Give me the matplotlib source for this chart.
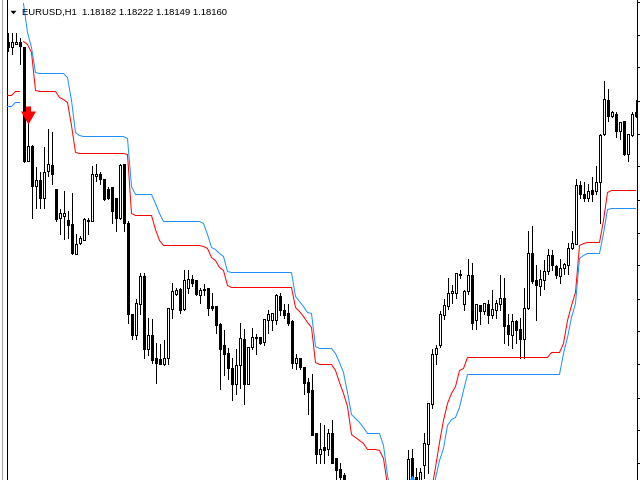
import numpy as np
import matplotlib
matplotlib.use("Agg")
import matplotlib.pyplot as plt
from matplotlib.path import Path
from matplotlib.lines import Line2D

# ---------------- data ----------------
# Values are chart rows (0 = top edge of plot, 480 = bottom edge);
# they are converted to EURUSD prices below with one linear price scale.
symbol = "EURUSD,H1"
header_ohlc = ["1.18182", "1.18222", "1.18149", "1.18160"]

open_rows = [
    42, 46, 43, 42, 47, 160, 146, 186, 179, 197,
    171, 165, 188, 217, 216, 219, 224, 253, 242, 240,
    220, 220, 175, 174, 179, 188, 187, 197, 217, 164,
    222, 313, 335, 303, 276, 348, 335, 358, 358, 363,
    357, 308, 293, 289, 308, 287, 279, 280, 294, 289,
    287, 306, 306, 324, 345, 353, 367, 383, 365, 338,
    383, 346, 337, 336, 341, 319, 320, 320, 296, 310,
    313, 321, 362, 358, 366, 381, 390, 433, 454, 447,
    449, 433, 458, 469, 475, 490, 515, 498, 518, 530,
    510, 522, 540, 525, 542, 520, 530, 512, 500, 510,
    490, 458, 477, 485, 465, 444, 403, 353, 345, 314,
    306, 292, 292, 274, 303, 291, 275, 320, 305, 311,
    304, 315, 309, 303, 297, 325, 335, 321, 328, 338,
    307, 252, 280, 286, 279, 271, 255, 266, 276, 267,
    264, 247, 243, 185, 193, 197, 190, 190, 182, 133,
    99, 115, 113, 130, 121, 153, 134, 112]

high_rows = [
    32, 33, 33, 38, 46, 118, 144, 167, 172, 147,
    128, 132, 188, 208, 190, 210, 192, 233, 235, 217,
    217, 166, 163, 172, 178, 187, 187, 197, 163, 163,
    220, 313, 298, 272, 272, 317, 318, 342, 343, 340,
    307, 282, 287, 287, 270, 270, 275, 280, 287, 283,
    287, 292, 306, 322, 330, 347, 357, 348, 322, 328,
    346, 327, 333, 336, 318, 310, 312, 293, 292, 303,
    303, 320, 353, 358, 366, 377, 373, 433, 422, 425,
    428, 420, 457, 463, 472, 486, 492, 490, 505, 500,
    498, 505, 515, 512, 510, 500, 505, 495, 488, 485,
    450, 449, 468, 467, 433, 402, 348, 345, 311, 298,
    277, 285, 272, 270, 290, 258, 262, 303, 304, 302,
    300, 290, 300, 275, 277, 313, 313, 320, 317, 287,
    230, 225, 265, 270, 259, 248, 249, 265, 258, 262,
    242, 230, 178, 180, 182, 183, 177, 165, 133, 80,
    88, 110, 111, 121, 121, 133, 111, 99]

low_rows = [
    50, 53, 43, 63, 162, 161, 217, 207, 207, 207,
    175, 183, 220, 233, 238, 237, 253, 253, 243, 240,
    233, 221, 180, 183, 199, 198, 222, 230, 218, 230,
    322, 338, 339, 313, 357, 355, 362, 382, 364, 365,
    364, 317, 295, 312, 310, 292, 286, 295, 302, 294,
    315, 310, 332, 388, 375, 378, 400, 393, 387, 403,
    383, 348, 353, 344, 345, 332, 330, 323, 315, 317,
    324, 367, 368, 368, 393, 414, 435, 463, 462, 462,
    455, 462, 485, 488, 495, 510, 520, 525, 535, 540,
    530, 545, 550, 548, 552, 535, 540, 522, 518, 520,
    498, 500, 500, 495, 478, 472, 407, 363, 346, 318,
    308, 302, 297, 277, 310, 293, 328, 328, 323, 313,
    322, 317, 317, 310, 342, 345, 347, 342, 357, 357,
    308, 282, 320, 295, 288, 273, 270, 277, 282, 273,
    273, 248, 243, 197, 200, 200, 200, 193, 222, 134,
    120, 117, 137, 138, 154, 160, 135, 117]

close_rows = [
    47, 41, 41, 45, 160, 146, 186, 180, 197, 172,
    164, 173, 218, 213, 213, 224, 252, 243, 238, 219,
    219, 173, 173, 178, 198, 197, 211, 217, 165, 222,
    313, 334, 303, 276, 348, 335, 360, 362, 363, 357,
    308, 291, 290, 310, 280, 279, 282, 293, 290, 288,
    307, 307, 325, 348, 353, 367, 383, 365, 338, 383,
    346, 337, 336, 342, 319, 313, 313, 295, 310, 315,
    322, 362, 357, 366, 382, 391, 435, 454, 449, 450,
    433, 462, 470, 476, 490, 505, 498, 518, 528, 510,
    522, 538, 525, 540, 520, 528, 512, 500, 510, 492,
    459, 495, 490, 472, 443, 403, 353, 347, 314, 305,
    293, 291, 273, 273, 291, 275, 322, 304, 311, 303,
    315, 309, 302, 297, 326, 333, 321, 329, 338, 307,
    252, 281, 285, 279, 271, 255, 265, 275, 267, 264,
    247, 243, 185, 193, 197, 191, 193, 182, 134, 99,
    115, 112, 130, 122, 153, 134, 113, 115]

# inner (red) and outer (blue) trailing bands
red_rows = [
    95, 95, 91, 91, 41, 44, 52, 90, 91, 91,
    91, 91, 91, 97, 99, 102, 125, 152, 153, 153,
    153, 153, 153, 153, 153, 153, 153, 153, 153, 153,
    154, 213, 215, 215, 215, 215, 215, 229, 240, 245,
    245, 245, 245, 245, 245, 245, 245, 245, 245, 246,
    248, 257, 260, 267, 270, 285, 287, 287, 287, 287,
    287, 287, 287, 287, 287, 287, 287, 287, 287, 287,
    287, 287, 307, 311, 316, 322, 327, 362, 364, 364,
    364, 364, 370, 382, 393, 406, 434, 437, 440, 443,
    449, 449, 449, 450, 458, 485, 505, 508, 510, 510,
    510, 520, 515, 510, 505, 500, 490, 467, 442, 420,
    403, 393, 386, 370, 368, 357, 357, 357, 357, 357,
    357, 357, 357, 357, 357, 357, 357, 357, 357, 357,
    357, 357, 357, 357, 357, 357, 352, 352, 352, 343,
    320, 305, 292, 245, 243, 242, 242, 242, 242, 220,
    192, 190, 190, 190, 190, 190, 190, 190]

blue_rows = [
    106, 106, 102, 102, 3, 32, 47, 72, 73, 73,
    73, 73, 73, 73, 73, 77, 100, 132, 135, 136,
    136, 136, 136, 136, 136, 136, 136, 136, 136, 136,
    138, 186, 194, 194, 194, 194, 194, 203, 213, 221,
    221, 221, 221, 221, 221, 221, 221, 221, 221, 223,
    234, 247, 249, 253, 256, 271, 272, 272, 272, 272,
    272, 272, 272, 272, 272, 272, 272, 272, 272, 272,
    272, 272, 296, 301, 306, 312, 313, 346, 348, 348,
    348, 348, 353, 362, 372, 392, 414, 418, 422, 427,
    433, 433, 433, 433, 445, 475, 495, 498, 500, 500,
    500, 540, 535, 530, 520, 510, 500, 478, 460, 448,
    425, 419, 417, 407, 390, 374, 374, 374, 374, 374,
    374, 374, 374, 374, 374, 374, 374, 374, 374, 374,
    374, 374, 374, 374, 374, 374, 374, 374, 374, 353,
    337, 317, 303, 258, 255, 253, 253, 253, 253, 233,
    209, 208, 208, 208, 208, 208, 208, 208]

# first bar of each trend run (up, down, up)
trend_starts = [0, 4, 101]

# signal arrows (bar index, arrow centre row)
sell_bars, sell_rows = [5], [114]
buy_bars, buy_rows = [101], [484]

# ---------------- price scale ----------------
LAST_CLOSE = 1.18160
LAST_CLOSE_ROW = 115
PRICE_PER_ROW = 0.0013 / 33.0


def to_price(rows):
    return LAST_CLOSE - (np.asarray(rows, dtype=float) - LAST_CLOSE_ROW) * PRICE_PER_ROW


o = to_price(open_rows)
h = to_price(high_rows)
l = to_price(low_rows)
c = to_price(close_rows)
red = to_price(red_rows)
blue = to_price(blue_rows)
n = len(o)
bars = np.arange(n)

W, H = 640, 480
fig = plt.figure(figsize=(6.4, 4.8), dpi=100)
fig.patch.set_facecolor("white")
ax = fig.add_axes([6.5 / W, 0, 630 / W, 1])
ax.set_facecolor("white")
ax.set_xlim(-0.25, -0.25 + 630 / 4.0)
# half-row offset so every row sits on a pixel centre
ax.set_ylim(to_price(479.5), to_price(-0.5))

px = 0.72  # one pixel in points

# candles
ax.vlines(bars, l, h, colors="black", linewidth=px, antialiased=False, zorder=2)
faces = np.where(c > o, "white", "black")
ax.bar(bars, np.abs(c - o), bottom=np.minimum(o, c), width=0.5,
       color=list(faces), edgecolor="black", linewidth=px,
       antialiased=False, zorder=3)

# bands, one line per trend run
ends = trend_starts[1:] + [n]
for s, e in zip(trend_starts, ends):
    ax.plot(bars[s:e], red[s:e], color="#FF0000", linewidth=px,
            antialiased=True, solid_joinstyle="miter", zorder=4)
    ax.plot(bars[s:e], blue[s:e], color="#1E90FF", linewidth=px,
            antialiased=True, solid_joinstyle="miter", zorder=4)

# arrow markers (shape in pixel units, centred)
down_verts = [(-2.5, 9), (2.5, 9), (2.5, 4), (7.5, 4), (0, -9), (-7.5, 4), (-2.5, 4), (-2.5, 9)]
down_arrow = Path(down_verts, closed=True)
up_arrow = Path([(x, -y) for x, y in down_verts], closed=True)
arrow_size = 18 * px
ax.plot(sell_bars, to_price(sell_rows), linestyle="none", marker=down_arrow,
        markersize=arrow_size, markerfacecolor="#FF0000", markeredgewidth=0,
        zorder=6, clip_on=True)
ax.plot(buy_bars, to_price(buy_rows), linestyle="none", marker=up_arrow,
        markersize=arrow_size, markerfacecolor="#1E90FF", markeredgewidth=0,
        zorder=6, clip_on=True)

# frame and right price ticks
for side in ("top", "bottom"):
    ax.spines[side].set_visible(False)
ax.spines["left"].set_linewidth(px)
ax.spines["right"].set_linewidth(px)
ax.spines["left"].set_color("black")
ax.spines["right"].set_color("black")
tick_rows = np.arange(1, 480, 33)
ax.set_yticks(to_price(tick_rows))
ax.yaxis.tick_right()
ax.tick_params(axis="y", direction="out", length=3, width=px, labelright=False,
               labelleft=False, colors="black")
ax.set_xticks([])

# outer window edge
fig.add_artist(Line2D([1.5 / W, 1.5 / W], [0, 1], color="#A0A0A0", linewidth=px,
                      transform=fig.transFigure))

# header
tri = Path([(-3, 1.7), (3, 1.7), (0, -1.7), (-3, 1.7)], closed=True)
fig.add_artist(Line2D([13 / W], [1 - 11.5 / H], marker=tri, markersize=6 * px,
                      markerfacecolor="black", markeredgewidth=0, linestyle="none",
                      transform=fig.transFigure))
fig.text(22 / W, 1 - 15 / H, symbol + "  " + " ".join(header_ohlc),
         fontsize=6.8, family="Liberation Sans", color="black",
         ha="left", va="baseline")

fig.savefig("out.png", dpi=100, facecolor="white")
